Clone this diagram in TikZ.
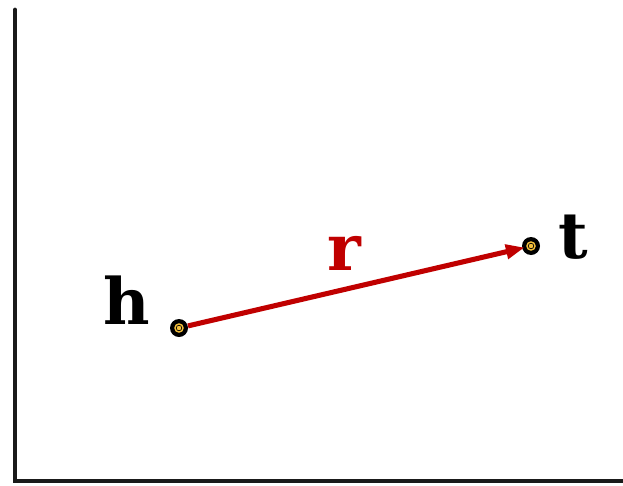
\documentclass[tikz,border=0pt]{standalone}
\usepackage{fontspec}
\setmainfont{DejaVu Serif}
\usepackage{xcolor}
\usetikzlibrary{arrows.meta}
\definecolor{relred}{RGB}{192,0,0}
\definecolor{ptyellow}{RGB}{245,192,60}
\definecolor{axisgray}{RGB}{26,26,26}

\begin{document}
\begin{tikzpicture}[
      x=0.75pt, y=-0.75pt,
      axis/.style={draw=axisgray, line width=3.6pt, line cap=round},
      pt/.style={circle, fill=black, inner sep=0pt, minimum size=13.5pt,
        path picture={
          \fill[ptyellow] (path picture bounding box.center) circle (3.6pt);
          \draw[black, line width=0.5pt] (path picture bounding box.center) circle (2.1pt);}},
      lab/.style={anchor=base, font=\fontsize{48}{50}\selectfont\bfseries},
      arr/.style={-{Triangle[length=14pt, width=10.5pt]}, draw=relred, line width=3.8pt, shorten >=-2pt}]
    \useasboundingbox (0,0) rectangle (623,485);
    % axes
    \coordinate (ytop) at (15,10);
    \coordinate (orig) at (15,481);
    \coordinate (xend) at (630,481);
    \draw[axis] (ytop) -- (orig) -- (xend);
    % head and tail
    \node[pt] (h) at (179,328) {};
    \node[pt] (t) at (531,246) {};
    \node[lab] (hlab) at (127,324) {h};
    \node[lab] (tlab) at (573,258) {t};
    \draw[arr] (h) -- (t);
    \node[lab, text=relred] (rlab) at (344,270) {r};
  \end{tikzpicture}
\end{document}
